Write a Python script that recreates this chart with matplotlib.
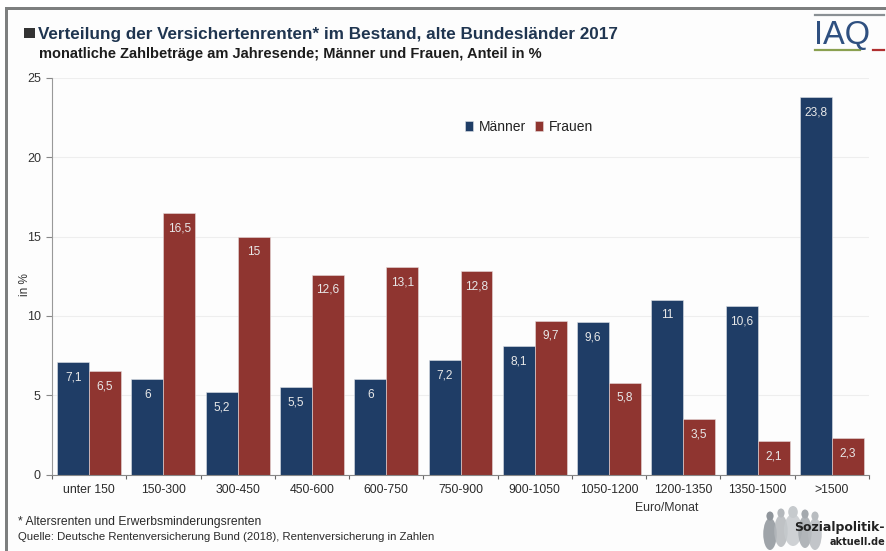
import matplotlib.pyplot as plt
from matplotlib.patches import Ellipse, Rectangle
import numpy as np

categories = ["unter 150", "150-300", "300-450", "450-600", "600-750", "750-900",
              "900-1050", "1050-1200", "1200-1350", "1350-1500", ">1500"]
maenner = [7.1, 6, 5.2, 5.5, 6, 7.2, 8.1, 9.6, 11, 10.6, 23.8]
frauen = [6.5, 16.5, 15, 12.6, 13.1, 12.8, 9.7, 5.8, 3.5, 2.1, 2.3]
yticks = [0, 5, 10, 15, 20, 25]

NAVY = "#1f3d66"
RED = "#8f3530"
W, H = 886, 551

plt.rcParams["font.family"] = ["Liberation Sans", "DejaVu Sans"]


def fmt(v):
    return str(v).replace(".", ",")


fig = plt.figure(figsize=(W / 100, H / 100), dpi=100, facecolor="#fdfdfd")

# overlay in pixel coordinates for the frame, header and logos
bg = fig.add_axes([0, 0, 1, 1])
bg.set_xlim(0, W)
bg.set_ylim(H, 0)
bg.axis("off")
bg.add_patch(Rectangle((0, 0), W, 7, fc="white", ec="none"))
bg.add_patch(Rectangle((0, 0), 5, H, fc="white", ec="none"))
bg.add_patch(Rectangle((5, 7), W - 5, 3, fc="#7d7f7f", ec="none"))
bg.add_patch(Rectangle((5, 7), 3.5, H - 7, fc="#7d7f7f", ec="none"))

bg.add_patch(Rectangle((24, 28), 11, 10, fc="#333333", ec="none"))
bg.text(38, 34, "Verteilung der Versichertenrenten* im Bestand, alte Bundesländer 2017",
        fontsize=12.3, fontweight="bold", color="#1f3550", va="center")
bg.text(39, 54, "monatliche Zahlbeträge am Jahresende; Männer und Frauen, Anteil in %",
        fontsize=10.5, fontweight="bold", color="#1c1c1c", va="center")

# IAQ logo
bg.plot([815, 884], [15, 15], color="#8a9094", lw=1.6)
bg.text(814, 35, "IAQ", fontsize=23.5, color="#2f5080", va="center", ha="left")
bg.plot([815, 860], [49.5, 49.5], color="#8aa050", lw=1.6)
bg.plot([873, 884], [49.5, 49.5], color="#b03030", lw=1.6)

ax = fig.add_axes([52 / W, 1 - 474.5 / H, 817 / W, (474.5 - 78) / H])
ax.patch.set_alpha(0)
x = np.arange(len(categories))
bw = 0.43
b1 = ax.bar(x - bw / 2, maenner, bw, color=NAVY, edgecolor="#dfe3e8", linewidth=0.4, label="Männer")
b2 = ax.bar(x + bw / 2, frauen, bw, color=RED, edgecolor="#e6dcdc", linewidth=0.4, label="Frauen")

for bars, vals in ((b1, maenner), (b2, frauen)):
    for r, v in zip(bars, vals):
        ax.annotate(fmt(v), (r.get_x() + r.get_width() / 2, v), xytext=(0, -11),
                    textcoords="offset points", ha="center", va="center",
                    color="#e8e8e8", fontsize=8.6)

ax.set_xlim(-0.5, len(categories) - 0.5)
ax.set_ylim(0, 25)
ax.set_yticks(yticks)
ax.set_xticks(np.arange(len(categories) + 1) - 0.5, minor=False)
ax.set_xticklabels([])
ax.set_xticks(x, categories, minor=True)
ax.tick_params(axis="x", which="minor", length=0, labelsize=8.8, labelcolor="#2a2a2a", pad=7)
ax.tick_params(axis="x", which="major", length=3, color="#666666", direction="out")
ax.tick_params(axis="y", length=4, color="#888888", labelsize=9, labelcolor="#333333", pad=4)
ax.yaxis.grid(True, color="#eeeeee", linewidth=0.8)
ax.set_axisbelow(True)
for s in ("top", "right"):
    ax.spines[s].set_visible(False)
ax.spines["left"].set_color("#999999")
ax.spines["bottom"].set_color("#888888")
ax.set_ylabel("in %", fontsize=8.5, color="#333333", labelpad=0)
ax.yaxis.set_label_coords(-0.026, 0.478)

# legend sits inside the plot between the 20 and 25 gridlines
ax.legend(loc="upper left", bbox_to_anchor=(0.506, 0.895), ncol=2, frameon=False, fontsize=10,
          handlelength=0.55, handleheight=0.75, handletextpad=0.45, columnspacing=0.6,
          labelcolor="#222222", borderpad=0, borderaxespad=0)

bg.text(667, 508, "Euro/Monat", fontsize=8.8, color="#333333", ha="center", va="center")
bg.text(18, 522, "* Altersrenten und Erwerbsminderungsrenten", fontsize=8.75, color="#2a2a2a", va="center")
bg.text(18, 537, "Quelle: Deutsche Rentenversicherung Bund (2018), Rentenversicherung in Zahlen",
        fontsize=8.2, color="#2a2a2a", va="center")

# people silhouettes behind the Sozialpolitik wordmark
people = [(770, 534, 9, "#8f959b"), (781, 531, 9, "#b4b8bc"), (793, 530, 12, "#c6cacd"),
          (805, 532, 9, "#a4a9ae"), (815, 534, 9, "#b8bcc0")]
for px, py, r, c in people:
    bg.add_patch(Ellipse((px, py), r * 1.5, 32, fc=c, ec="none", alpha=0.85))
    bg.add_patch(Ellipse((px, py - 18), r * 0.8, r * 1.0, fc=c, ec="none"))
bg.text(885, 527, "Sozialpolitik-", fontsize=9, fontweight="bold", family="DejaVu Sans",
        color="#222222", va="center", ha="right")
bg.text(885, 542, "aktuell.de", fontsize=7, fontweight="bold", family="DejaVu Sans",
        color="#222222", va="center", ha="right")

fig.savefig("out.png", dpi=100, facecolor=fig.get_facecolor())
